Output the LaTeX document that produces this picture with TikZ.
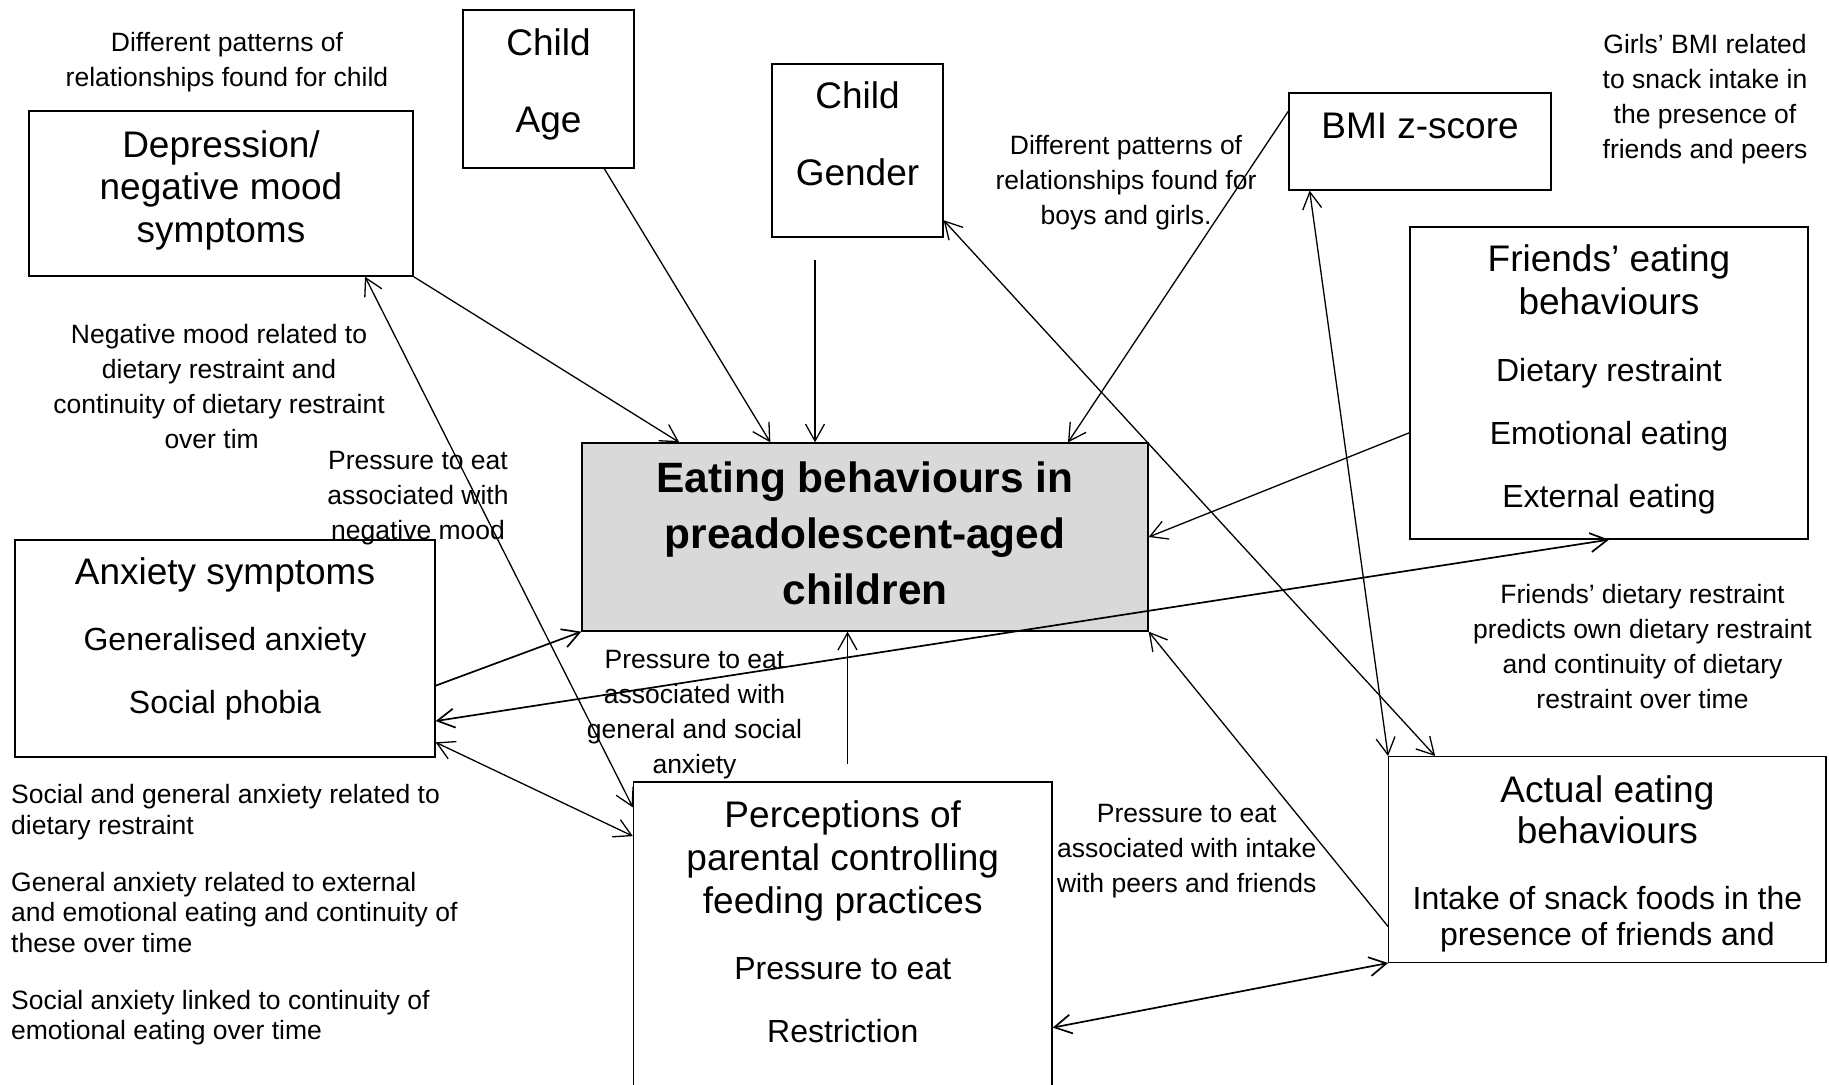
\documentclass[tikz,border=0pt]{standalone}
\usepackage{fontspec}
\setmainfont{Liberation Sans}
\usetikzlibrary{positioning,arrows.meta}
\tikzset{box/.style = {draw, line width=0.65pt, inner sep=0pt, font=\fontsize{18.5pt}{21.5pt}\selectfont}}
\tikzset{mainbox/.style = {box, fill=black!15, font=\bfseries\fontsize{21.2pt}{28pt}\selectfont}}
\tikzset{note/.style = {inner sep=0pt, align=center, font=\fontsize{13.25pt}{17.5pt}\selectfont}}
\tikzset{heavy/.style = {line width=0.85pt}}
\newcommand{\boxcontent}[3]{\parbox[c][#2][t]{#1}{\centering #3}}

\begin{document}
\begin{tikzpicture}[x=0.5pt, y=-0.5pt, >={Straight Barb[length=8.5pt,width=9.5pt]}, line width=0.65pt]
  \clip (0,0) rectangle (1829,1084);

  % boxes
  \node [mainbox] (central) at (865,537) {\boxcontent{283pt}{94pt}{\rule{0pt}{24.5pt}Eating behaviours in\\preadolescent-aged\\children}};
  \node [box] (dep) at (221,193.5) {\boxcontent{192pt}{82.5pt}{\fontsize{18.5pt}{21.3pt}\selectfont\rule{0pt}{23pt}Depression/\\negative mood\\symptoms}};
  \node [box] (age) at (548.5,89) {\boxcontent{85.5pt}{79pt}{\fontsize{18.5pt}{38.5pt}\selectfont\rule{0pt}{22.5pt}Child\\Age}};
  \node [box] (gender) at (857.5,150.5) {\boxcontent{85.5pt}{86.5pt}{\fontsize{18.5pt}{38.5pt}\selectfont\rule{0pt}{22pt}Child\\Gender}};
  \node [box] (bmi) at (1420,141.5) {\boxcontent{131pt}{48.5pt}{\rule{0pt}{22.5pt}BMI z-score}};
  \node [box] (friends) at (1609,383) {\boxcontent{199pt}{156pt}{\rule{0pt}{22pt}Friends' eating\\behaviours\par
    \fontsize{16pt}{31.5pt}\selectfont\vspace{2pt}Dietary restraint\\Emotional eating\\External eating}};
  \node [box] (anx) at (225,648.5) {\boxcontent{210pt}{108.5pt}{\rule{0pt}{22pt}Anxiety symptoms\par
    \fontsize{16pt}{31.5pt}\selectfont\vspace{1.5pt}Generalised anxiety\\Social phobia}};
  \node [box] (perc) at (842.75,938.5) {\boxcontent{209.25pt}{156.5pt}{\rule{0pt}{22.5pt}Perceptions of\\parental controlling\\feeding practices\par
    \fontsize{16pt}{31.5pt}\selectfont\vspace{1.5pt}Pressure to eat\\Restriction}};
  \node [box] (actual) at (1607.4,859.5) {\boxcontent{218.65pt}{102.85pt}{\fontsize{18.5pt}{20.5pt}\selectfont\rule{0pt}{23pt}Actual eating\\behaviours\par
    \fontsize{16pt}{18pt}\selectfont\vspace{14.75pt}Intake of snack foods in the\\presence of friends and}};

  % notes
  \node [note] (ntop) at (227,62) {Different patterns of\\relationships found for child};
  \node [note] (nmood) at (219,387) {Negative mood related to\\dietary restraint and\\continuity of dietary restraint\\over tim\phantom{e}};
  \node [note] (npmood) at (418,498) {Pressure to eat\\associated with\\negative mood};
  \node [note] (nsex) at (1126,183) {Different patterns of\\relationships found for\\boys and girls.};
  \node [note] (ngirls) at (1705,99.5) {Girls' BMI related\\to snack intake in\\the presence of\\friends and peers};
  \node [note] (nfriends) at (1642.5,647) {Friends' dietary restraint\\predicts own dietary restraint\\and continuity of dietary\\restraint over time};
  \node [note] (npanx) at (694.5,715) {Pressure to eat\\associated with\\general and social\\anxiety};
  \node [note] (npeers) at (1186.7,851) {Pressure to eat\\associated with intake\\with peers and friends};
  \node [note, align=left, anchor=north west, font=\fontsize{13.25pt}{15.25pt}\selectfont] (nanx) at (10.5,784)
    {Social and general anxiety related to\\dietary restraint\\[13.25pt]General anxiety related to external\\and emotional eating and continuity of\\these over time\\[13.25pt]Social anxiety linked to continuity of\\emotional eating over time};

  \coordinate (gdrop) at (815,260);
  \coordinate (pup) at (847.5,764);

  % links
  \path[->] (dep.south east) edge (central.153);
  \path[->] (age.-55) edge (central.135);
  \path[->] (gdrop) edge (gdrop |- central.north);
  \path[->] (bmi.167.5) edge (central.25.6);
  \path[<->] (gender.-39.5) edge (actual.149);
  \path[<->] (bmi.204.2) edge (actual.north west);
  \path[->] (friends.194.4) edge (central.-0.4);
  \path[<->, heavy] (anx.-19.4) edge (friends.south);
  \path[->, heavy] (anx.-10.4) edge (central.south west);
  \path[<->] (dep.-30) edge (perc.148.6);
  \path[<->] (anx.-24.7) edge (perc.154.6);
  \path[->] (pup) edge (pup |- central.south);
  \path[->] (actual.197) edge (central.south east);
  \path[<->, heavy] (actual.south west) edge (perc.-23.7);
\end{tikzpicture}
\end{document}
